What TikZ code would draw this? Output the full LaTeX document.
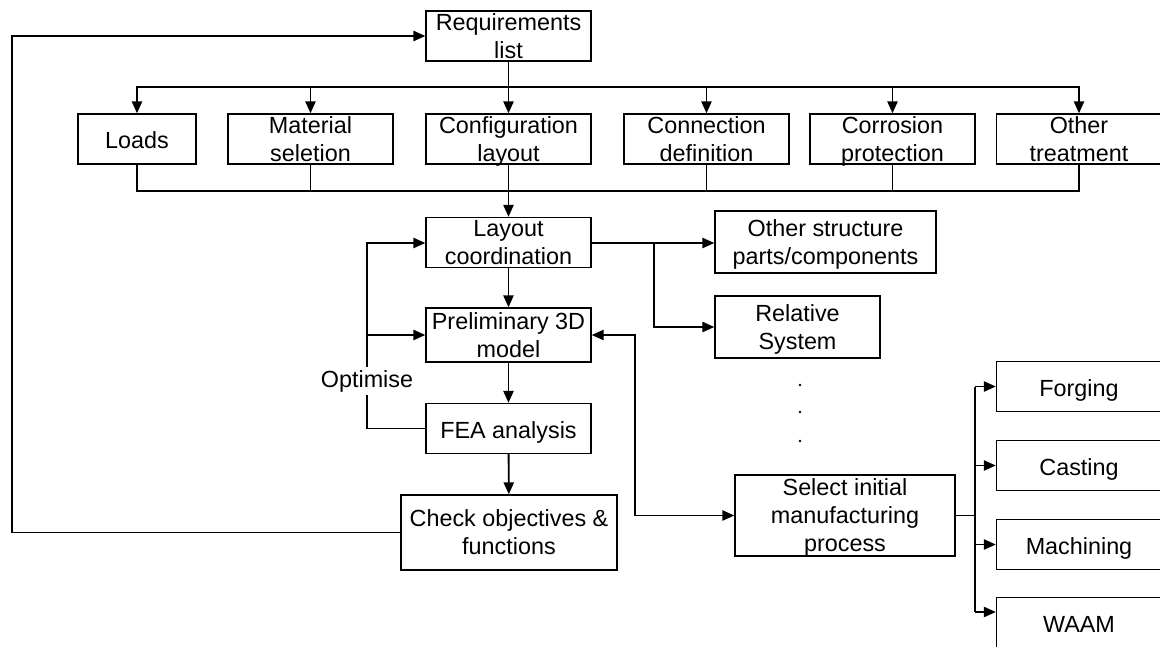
\documentclass[tikz,border=0pt]{standalone}
\usepackage{fontspec}
\setmainfont{Liberation Sans}
\usetikzlibrary{arrows.meta,calc}
\newcommand{\capstrut}{\rule{0pt}{0.86em}}

\begin{document}
\begin{tikzpicture}[x=0.02cm,y=-0.02cm,>={Triangle[length=6.8pt,width=5.8pt]},line width=1.05pt,
  font=\fontsize{13.3pt}{16pt}\selectfont,
  box/.style={draw,line width=0.8pt,align=center,inner sep=0pt,minimum width=3.3cm,minimum height=1cm,
    execute at begin node=\capstrut,text depth=0.04em}]
\useasboundingbox (0,0) rectangle (1160,646);
% boxes
\node[box] (req) at (508.5,36) {Requirements\\list};
\node[box,minimum width=2.36cm] (loads) at (137,139) {Loads};
\node[box] (mat) at (310.5,139) {Material\\seletion};
\node[box] (conf) at (508.5,139) {Configuration\\layout};
\node[box] (conn) at (706.5,139) {Connection\\definition};
\node[box] (corr) at (892.5,139) {Corrosion\\protection};
\node[box] (treat) at (1079,139) {Other\\treatment};
\node[box] (lay) at (508.5,242.5) {Layout\\coordination};
\node[box,minimum width=4.42cm,minimum height=1.24cm] (parts) at (825.5,242) {Other structure\\parts/components};
\node[box,minimum height=1.24cm] (rel) at (797.5,327) {Relative\\System};
\node[box,minimum height=1.08cm] (pre) at (508.5,335) {Preliminary 3D\\model};
\node[box] (fea) at (508.5,428.5) {FEA analysis};
\node[box,minimum width=4.32cm,minimum height=1.5cm] (check) at (509,532.5) {Check objectives \&\\functions};
\node[box,minimum width=4.4cm,minimum height=1.62cm] (sel) at (845,515.5) {Select initial\\manufacturing\\process};
\foreach \n/\t/\y in {forg/Forging/386.5,cast/Casting/465.5,mach/Machining/544.5,waam/WAAM/622.5}
  \node[box] (\n) at (1079,\y) {\t};
% helper points
\coordinate (bt) at (508.5,87);
\coordinate (bb) at (508.5,191);
\coordinate (jn) at (654,243);
\coordinate (opt) at (367,0);
\coordinate (dv) at (635,0);
\coordinate (fb) at (12,0);
\coordinate (br) at (975,0);
\coordinate (wa) at ($(waam.west)+(0,-10.5)$);
% requirements to the six topics and back together
\draw (req) -- (bt);
\foreach \b in {loads,mat,conf,conn,corr,treat} {
  \draw[->] (bt) -| (\b);
  \draw (\b) |- (bb);
}
\draw[->] (bb) -- (lay);
% layout branches
\draw (lay.east|-jn) -- (jn);
\draw[->] (jn) -- (jn-|parts.west);
\draw[->] (jn) |- (rel);
% main chain
\draw[->] (lay) -- (pre);
\draw[->] (pre) -- (fea);
\draw[->] (fea) -- (check);
% optimise loop
\draw[->] (fea.west) -- (fea.west-|opt) |- (lay.west|-jn);
\draw[->] (pre.west-|opt) -- (pre.west);
\node[fill=white,inner sep=2pt] (optlbl) at (367,381) {Optimise};
% model <-> manufacturing
\draw[<->] (pre.east) -- (pre.east-|dv) |- (sel.west);
% feedback to requirements
\draw[->] (check.west) -- (check.west-|fb) |- (req.west);
% process options
\draw (sel.east) -- (sel.east-|br);
\draw (br|-forg.west) -- (br|-wa);
\foreach \n in {forg,cast,mach}
  \draw[->] (br|-\n.west) -- (\n.west);
\draw[->] (br|-wa) -- (wa);
% more systems
\foreach \y in {385,412,441}
  \fill (800,\y) circle (1.3);
\end{tikzpicture}
\end{document}
